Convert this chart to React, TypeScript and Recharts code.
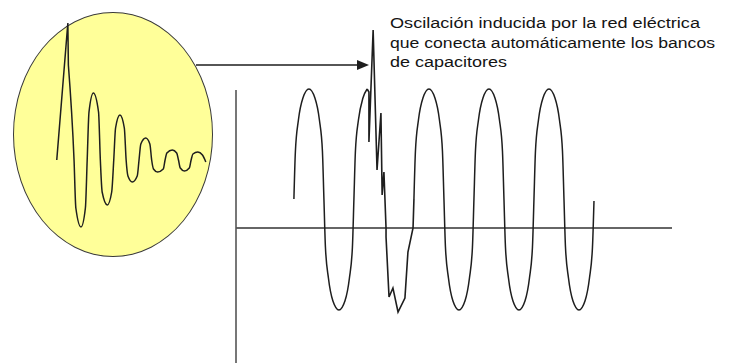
import React from "react";
import { LineChart, Line, XAxis, YAxis, ReferenceLine } from "recharts";

// ---- Main trace (time in ms, voltage in V) ----
const mainStartT = [0, 0.5, 1.5, 3, 5, 7, 8.5, 9.5, 10, 10.5, 11.5, 13, 15, 17, 18.5, 19.5, 20, 20.5, 21.5, 23, 24.4];
const mainStartV = [29, 77, 108, 130, 139, 130, 108, 77, 29, -19, -50, -73, -82, -73, -50, -19, 29, 77, 108, 130, 139];

const transientT = [24.4, 25, 25, 26.4, 27.7, 29, 29.4, 30, 30.7, 30.7, 31.7, 33, 34.7, 37, 38, 39.7, 40];
const transientV = [139, 136, 86, 198, 58, 115, 33, 56, 0, -9, -69, -60, -84, -70, -24, 0, 29];

const mainEndT = [
  40, 40.5, 41.5, 43, 45, 47, 48.5, 49.5, 50, 50.5, 51.5, 53, 55, 57, 58.5, 59.5,
  60, 60.5, 61.5, 63, 65, 67, 68.5, 69.5, 70, 70.5, 71.5, 73, 75, 77, 78.5, 79.5,
  80, 80.5, 81.5, 83, 85, 87, 88.5, 89.5, 90, 90.5, 91.5, 93, 95, 97, 98.5, 99.5, 100,
];
const mainEndV = [
  29, 77, 108, 130, 139, 130, 108, 77, 29, -19, -50, -73, -82, -73, -50, -19,
  29, 77, 108, 130, 139, 130, 108, 77, 29, -19, -50, -73, -82, -73, -50, -19,
  29, 77, 108, 130, 139, 130, 108, 77, 29, -19, -50, -73, -82, -73, -50, -19, 27,
];

// ---- Zoomed oscillation inside the circle ----
const spikeT = [0, 4.3, 4.5];
const spikeV = [0, 137, 95];
const dampedT = [
  4.5, 6.7, 7.4, 9.4, 11.1, 11.8, 12.5, 14.2, 16.2, 16.9, 17.6, 19.6, 21.3, 22.1,
  22.8, 24.5, 26.2, 26.9, 27.6, 29.3, 31.2, 31.9, 32.6, 34.5, 36.1, 36.8, 37.5, 39.1,
  41.3, 42, 42.7, 44.8, 46.5, 47.2, 47.9, 49.5, 51.4, 52.1, 52.8, 54.7, 56.5, 57.8,
];
const dampedV = [
  95, 0, -48, -67, -48, 0, 48, 67, 48, 0, -32, -45, -32, 0,
  32, 45, 32, 0, -16, -22, -16, 0, 16, 22, 16, 0, -9, -12,
  -9, 0, 7, 10, 7, 0, -8, -11, -8, 0, 6, 8, 5, -2,
];

const annotationLines = [
  "Oscilación inducida por la red eléctrica",
  "que conecta automáticamente los bancos",
  "de capacitores",
];

const zip = (ts: number[], vs: number[]) => ts.map((t, i) => ({ t, v: vs[i] }));

const mainStart = zip(mainStartT, mainStartV);
const transient = zip(transientT, transientV);
const mainEnd = zip(mainEndT, mainEndV);
const spike = zip(spikeT, spikeV);
const damped = zip(dampedT, dampedV);

const INK = "#1e1e1e";

export default function App() {
  return (
    <div
      style={{
        position: "absolute",
        left: 0,
        top: 0,
        width: 730,
        height: 363,
        background: "#ffffff",
        overflow: "hidden",
        fontFamily: "'Liberation Sans', Arial, sans-serif",
      }}
    >
      {/* yellow circle */}
      <div
        style={{
          position: "absolute",
          left: 13,
          top: 12,
          width: 200,
          height: 245,
          boxSizing: "border-box",
          borderRadius: "50%",
          background: "#ffff99",
          border: "1.3px solid #3a3a3a",
        }}
      />

      {/* damped oscillation */}
      <div style={{ position: "absolute", left: 40, top: 10 }}>
        <LineChart width={180} height={240} margin={{ top: 0, right: 0, bottom: 0, left: 0 }}>
          <XAxis type="number" dataKey="t" domain={[-6.5, 63.3]} allowDataOverflow hide />
          <YAxis type="number" dataKey="v" domain={[-90, 150]} allowDataOverflow hide />
          <Line data={spike} dataKey="v" type="linear" stroke={INK} strokeWidth={1.5} dot={false} isAnimationActive={false} />
          <Line data={damped} dataKey="v" type="monotone" stroke={INK} strokeWidth={1.5} dot={false} isAnimationActive={false} />
        </LineChart>
      </div>

      {/* main chart */}
      <div style={{ position: "absolute", left: 0, top: 0 }}>
        <LineChart width={730} height={363} margin={{ top: 20, right: 58, bottom: 0, left: 236 }}>
          <XAxis type="number" dataKey="t" domain={[-19.3, 126]} allowDataOverflow hide />
          <YAxis type="number" dataKey="v" domain={[-135, 208]} allowDataOverflow hide />
          <ReferenceLine y={0} stroke="#333" strokeWidth={1.6} />
          <ReferenceLine
            segment={[
              { x: -19.3, y: -135 },
              { x: -19.3, y: 138 },
            ]}
            stroke="#555"
            strokeWidth={1.6}
          />
          <Line data={mainStart} dataKey="v" type="monotone" stroke={INK} strokeWidth={1.5} dot={false} isAnimationActive={false} />
          <Line data={transient} dataKey="v" type="linear" stroke={INK} strokeWidth={1.6} dot={false} isAnimationActive={false} />
          <Line data={mainEnd} dataKey="v" type="monotone" stroke={INK} strokeWidth={1.5} dot={false} isAnimationActive={false} />
        </LineChart>
      </div>

      {/* arrow and annotation */}
      <svg
        width={730}
        height={363}
        style={{ position: "absolute", left: 0, top: 0, pointerEvents: "none" }}
      >
        <line x1={196} y1={65} x2={360} y2={65} stroke={INK} strokeWidth={1.5} />
        <polygon points="369,65 357,60 357,70" fill={INK} />
        {annotationLines.map((txt, i) => (
          <text
            key={i}
            x={390}
            y={28 + i * 19.5}
            fontSize={15.5}
            fill="#141414"
            textLength={[310, 325, 117][i]}
            lengthAdjust="spacingAndGlyphs"
          >
            {txt}
          </text>
        ))}
      </svg>
    </div>
  );
}
